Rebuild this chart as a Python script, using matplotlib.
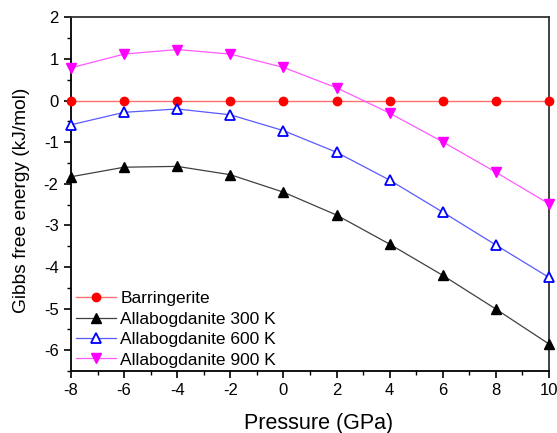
import matplotlib
matplotlib.use("Agg")
import matplotlib.pyplot as plt
from matplotlib.ticker import MultipleLocator

plt.rcParams['font.family'] = ['Liberation Sans', 'DejaVu Sans']
plt.rcParams['axes.unicode_minus'] = False

pressure = [-8, -6, -4, -2, 0, 2, 4, 6, 8, 10]
barringerite = [0, 0, 0, 0, 0, 0, 0, 0, 0, 0]
allab_300 = [-1.83, -1.60, -1.58, -1.78, -2.20, -2.75, -3.45, -4.20, -5.01, -5.85]
allab_600 = [-0.58, -0.28, -0.20, -0.34, -0.72, -1.24, -1.91, -2.68, -3.47, -4.25]
allab_900 = [0.79, 1.12, 1.23, 1.12, 0.80, 0.31, -0.30, -0.99, -1.72, -2.48]
labels = ["Barringerite", "Allabogdanite 300 K", "Allabogdanite 600 K", "Allabogdanite 900 K"]

fig = plt.figure(figsize=(5.57, 4.33), dpi=100)
ax = fig.add_axes([0.1275, 0.1432, 0.858, 0.8164])

ax.plot(pressure, barringerite, color='#ff7070', lw=1.0, marker='o', ms=6,
        mfc='red', mec='red', label=labels[0], clip_on=False, zorder=3)
ax.plot(pressure, allab_300, color='#404040', lw=0.9, marker='^', ms=6.5,
        mfc='black', mec='black', label=labels[1], clip_on=False, zorder=3)
ax.plot(pressure, allab_600, color='#5a5aff', lw=0.9, marker='^', ms=6.5,
        mfc='white', mec='blue', mew=1.3, label=labels[2], clip_on=False, zorder=3)
ax.plot(pressure, allab_900, color='#ff5aff', lw=0.9, marker='v', ms=6.5,
        mfc='magenta', mec='magenta', label=labels[3], clip_on=False, zorder=3)

ax.set_xlim(-8, 10)
ax.set_ylim(-6.5, 2)
ax.xaxis.set_major_locator(MultipleLocator(2))
ax.xaxis.set_minor_locator(MultipleLocator(1))
ax.yaxis.set_major_locator(MultipleLocator(1))
ax.yaxis.set_minor_locator(MultipleLocator(0.5))
ax.tick_params(which='major', direction='out', length=5, width=1.2, labelsize=12,
               colors='black', pad=4)
ax.tick_params(which='minor', direction='out', length=3, width=1.0)
ax.tick_params(top=False, right=False)

for s in ['left', 'bottom']:
    ax.spines[s].set_linewidth(1.3)
    ax.spines[s].set_color('black')
for s in ['top', 'right']:
    ax.spines[s].set_linewidth(1.3)
    ax.spines[s].set_color('#333333')

ax.set_xlabel("Pressure (GPa)", fontsize=15.5, labelpad=9)
ax.set_ylabel("Gibbs free energy (kJ/mol)", fontsize=13.8, labelpad=6)
ax.xaxis.set_label_coords(0.518, -0.12)
ax.yaxis.set_label_coords(-0.085, 0.484)

ax.legend(loc='lower left', frameon=False, fontsize=12.5, handlelength=2.3,
          handletextpad=0.25, labelspacing=0.3, borderaxespad=0.0, borderpad=0.3,
          bbox_to_anchor=(0.0, -0.005))

fig.savefig("out.png", dpi=100)
